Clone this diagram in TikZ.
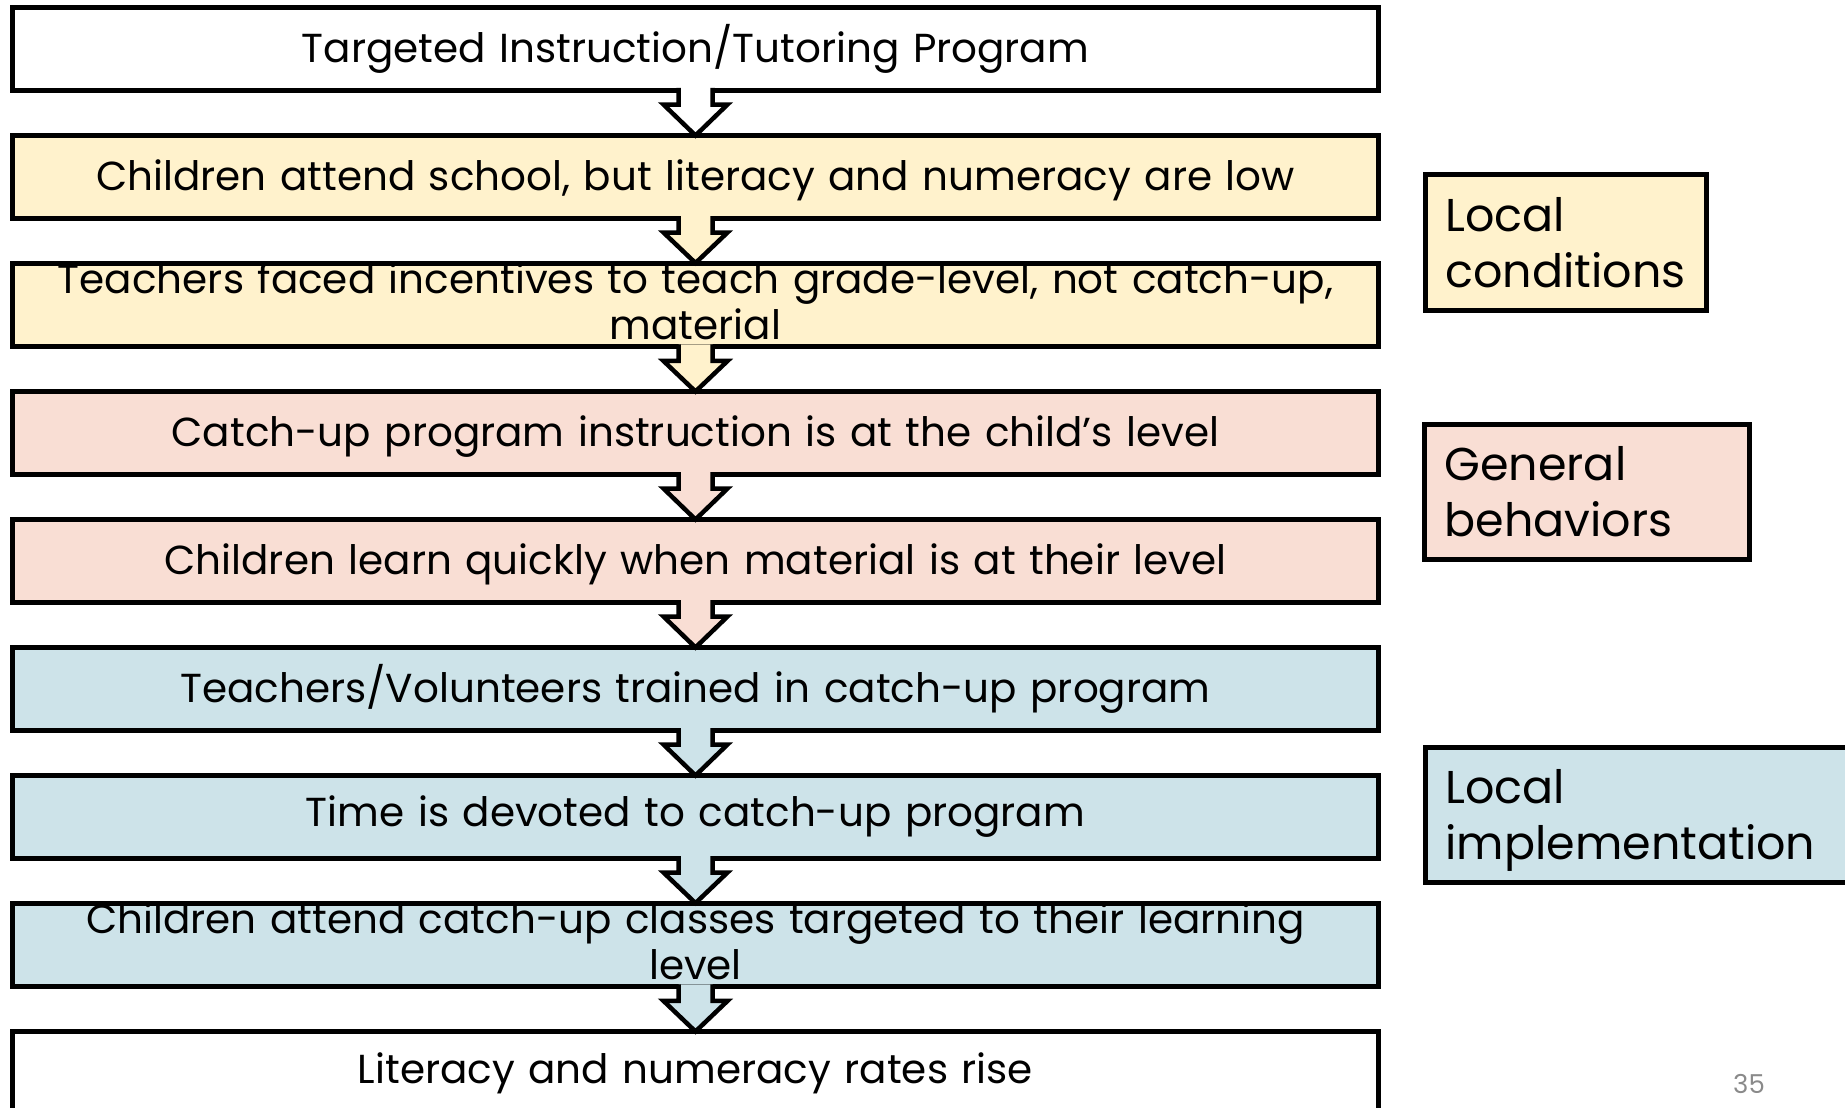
\documentclass[tikz,border=0pt]{standalone}
\usepackage{fontspec}
\setmainfont{Poppins}
\usetikzlibrary{calc}
\definecolor{condfill}{HTML}{FFF2CC}
\definecolor{behfill}{HTML}{F9DED4}
\definecolor{implfill}{HTML}{CDE3E9}
\definecolor{pagegray}{HTML}{8A8A8A}
% invisible struts used to nudge a line of text up or down inside its box
\newcommand\topstrut[1]{\rule{0pt}{#1}}
\newcommand\bottomstrut[1]{\rule[-#1]{0pt}{0pt}}
\begin{document}
\begin{tikzpicture}[x=1pt,y=-1pt,
  stepbox/.style={draw=black, line width=5pt, outer sep=0pt, inner sep=0pt,
    text width=1366pt, minimum height=83pt, align=center,
    font=\fontsize{40.5}{46}\selectfont},
  sidebox/.style={draw=black, line width=5pt, outer sep=0pt, inner xsep=20pt,
    inner ysep=0pt, align=left, font=\fontsize{46}{56}\selectfont},
  flowline/.style={draw=black, line width=4.5pt, line join=miter}
]
\useasboundingbox (0,0) rectangle (1845,1108);
\clip (0,0) rectangle (1845,1108);

% chain of steps
\node[stepbox, fill=white]    (s1) at (695.5,49)  {Targeted Instruction/Tutoring Program};
\node[stepbox, fill=condfill] (s2) at (695.5,177) {\topstrut{37pt}Children attend school, but literacy and numeracy are low};
\node[stepbox, fill=condfill] (s3) at (695.5,305) {Teachers faced incentives to teach grade-level, not catch-up,\\material\bottomstrut{7pt}};
\node[stepbox, fill=behfill]  (s4) at (695.5,433) {\topstrut{37pt}Catch-up program instruction is at the child's level};
\node[stepbox, fill=behfill]  (s5) at (695.5,561) {\topstrut{37pt}Children learn quickly when material is at their level};
\node[stepbox, fill=implfill] (s6) at (695.5,689) {Teachers/Volunteers trained in catch-up program};
\node[stepbox, fill=implfill] (s7) at (695.5,817) {Time is devoted to catch-up program};
\node[stepbox, fill=implfill] (s8) at (695.5,945) {Children attend catch-up classes targeted to their learning\\level\bottomstrut{7pt}};
\node[stepbox, fill=white]    (s9) at (695.5,1073) {Literacy and numeracy rates rise};

% block arrows between consecutive steps
\newcommand\flowarrow[3]{%
  \fill[#1] ($(#2.south)+(-17,-2.5)$) -- ($(#2.south)+(-17,14)$) -- ($(#2.south)+(-32,14)$)
    -- (#3.north) -- ($(#2.south)+(32,14)$) -- ($(#2.south)+(17,14)$) -- ($(#2.south)+(17,-2.5)$) -- cycle;
  \draw[flowline] ($(#2.south)+(-17,-2.5)$) -- ($(#2.south)+(-17,14)$) -- ($(#2.south)+(-32,14)$)
    -- (#3.north) -- ($(#2.south)+(32,14)$) -- ($(#2.south)+(17,14)$) -- ($(#2.south)+(17,-2.5)$);
}
\flowarrow{white}{s1}{s2}
\flowarrow{condfill}{s2}{s3}
\flowarrow{condfill}{s3}{s4}
\flowarrow{behfill}{s4}{s5}
\flowarrow{behfill}{s5}{s6}
\flowarrow{implfill}{s6}{s7}
\flowarrow{implfill}{s7}{s8}
\flowarrow{implfill}{s8}{s9}

% category labels
\node[sidebox, fill=condfill, text width=241pt, minimum height=136pt] (c1) at (1566,242.5) {Local\\conditions};
\node[sidebox, fill=behfill,  text width=285pt, minimum height=135pt] (c2) at (1587,492) {General\\behaviors};
\node[sidebox, fill=implfill, text width=410pt, minimum height=135pt] (c3) at (1650.5,815) {\topstrut{44pt}Local\\implementation};

% page number
\node[anchor=base, text=pagegray, font=\fontsize{26}{29}\selectfont, inner sep=0pt] (pg) at (1749,1093) {35};
\end{tikzpicture}
\end{document}
